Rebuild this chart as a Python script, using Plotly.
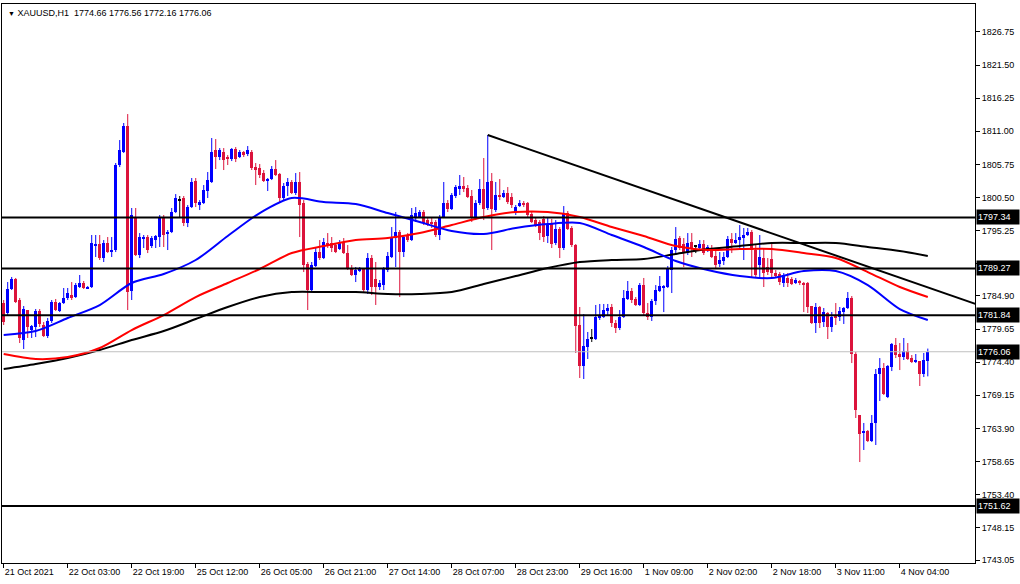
import plotly.graph_objects as go

# ---------------- data ----------------
x_tick_pos = [0, 16, 32, 48, 64, 80, 96, 112, 128, 144, 160, 176, 192, 208, 224]
x_tick_text = ["21 Oct 2021", "22 Oct 03:00", "22 Oct 19:00", "25 Oct 12:00", "26 Oct 05:00",
               "26 Oct 21:00", "27 Oct 14:00", "28 Oct 07:00", "28 Oct 23:00", "29 Oct 16:00",
               "1 Nov 09:00", "2 Nov 02:00", "2 Nov 18:00", "3 Nov 11:00", "4 Nov 04:00"]
y_ticks = [1826.75, 1821.50, 1816.25, 1811.00, 1805.75, 1800.50, 1795.25, 1790.00, 1784.90,
           1779.65, 1774.40, 1769.15, 1763.90, 1758.65, 1753.40, 1748.15, 1743.05]

opens = [
    1783.78, 1782.19, 1786.00, 1787.59, 1784.26, 1777.92, 1782.67, 1779.50,
    1779.98, 1782.51, 1780.30, 1778.55, 1780.93, 1783.94, 1782.51, 1783.78,
    1784.58, 1785.05, 1784.73, 1786.32, 1786.95, 1786.16, 1786.32, 1792.97,
    1793.13, 1790.91, 1793.29, 1791.86, 1792.18, 1805.65, 1807.71, 1811.83,
    1785.68, 1797.41, 1791.39, 1794.08, 1794.24, 1792.81, 1793.76, 1794.24,
    1797.25, 1794.72, 1795.03, 1798.20, 1800.10, 1800.42, 1796.46, 1798.99,
    1803.12, 1799.31, 1799.63, 1801.53, 1802.96, 1808.03, 1806.92, 1807.71,
    1806.92, 1806.60, 1808.19, 1806.92, 1807.71, 1807.39, 1807.71, 1805.33,
    1805.17, 1804.38, 1803.12, 1803.43, 1805.02, 1804.23, 1800.42, 1802.32,
    1802.96, 1801.21, 1802.96, 1799.63, 1789.96, 1785.84, 1789.64, 1791.86,
    1790.91, 1793.29, 1793.29, 1792.97, 1792.34, 1793.45, 1791.70, 1789.33,
    1788.22, 1788.85, 1789.33, 1785.84, 1790.91, 1787.59, 1786.32, 1786.63,
    1789.01, 1791.07, 1794.08, 1795.03, 1791.86, 1794.40, 1793.76, 1797.41,
    1797.41, 1798.20, 1796.93, 1796.62, 1796.62, 1794.56, 1797.41, 1799.63,
    1798.68, 1800.74, 1801.84, 1802.32, 1802.00, 1800.74, 1797.41, 1799.63,
    1801.84, 1798.84, 1803.12, 1798.52, 1800.90, 1800.58, 1801.21, 1800.58,
    1798.04, 1799.15, 1799.63, 1799.63, 1797.89, 1796.93, 1796.62, 1797.09,
    1794.40, 1796.46, 1793.29, 1795.51, 1792.50, 1798.04, 1795.67, 1792.97,
    1780.30, 1773.80, 1776.81, 1778.08, 1778.08, 1781.41, 1781.56, 1782.51,
    1783.15, 1780.62, 1779.82, 1781.56, 1784.42, 1785.68, 1784.42, 1783.47,
    1786.63, 1782.20, 1781.56, 1784.10, 1785.68, 1786.24, 1786.32, 1789.01,
    1792.18, 1794.08, 1793.13, 1791.70, 1793.45, 1792.66, 1792.50, 1793.13,
    1792.18, 1792.34, 1791.23, 1789.96, 1790.44, 1791.07, 1793.92, 1793.45,
    1793.76, 1794.08, 1794.56, 1795.03, 1792.18, 1789.80, 1790.91, 1789.49,
    1790.75, 1788.53, 1788.38, 1786.95, 1787.75, 1787.59, 1786.95, 1787.27,
    1786.95, 1786.95, 1783.31, 1780.62, 1783.15, 1780.77, 1782.20, 1779.98,
    1781.60, 1781.56, 1782.35, 1782.99, 1784.58, 1775.70, 1766.03, 1763.18,
    1763.50, 1761.91, 1764.77, 1772.53, 1773.48, 1768.88, 1773.64, 1777.12,
    1775.70, 1775.22, 1776.17, 1775.06, 1774.43, 1774.59, 1772.53, 1774.66,
]
highs = [
    1784.26, 1787.11, 1787.91, 1787.75, 1784.58, 1783.31, 1782.67, 1780.30,
    1782.83, 1782.83, 1780.77, 1781.41, 1784.26, 1784.42, 1783.94, 1786.16,
    1786.16, 1787.11, 1786.95, 1788.22, 1787.27, 1786.47, 1794.56, 1794.56,
    1794.56, 1793.76, 1794.24, 1794.24, 1805.97, 1809.61, 1812.31, 1813.73,
    1798.84, 1798.84, 1794.87, 1794.56, 1794.56, 1794.40, 1794.56, 1797.73,
    1797.73, 1795.35, 1798.84, 1801.05, 1800.74, 1800.74, 1799.31, 1803.59,
    1803.59, 1800.10, 1802.48, 1804.54, 1809.93, 1809.77, 1808.34, 1808.34,
    1807.23, 1808.34, 1808.50, 1808.03, 1807.87, 1808.66, 1808.03, 1805.97,
    1805.81, 1804.86, 1803.59, 1805.49, 1806.44, 1804.38, 1802.80, 1803.59,
    1803.27, 1804.38, 1804.54, 1800.10, 1790.28, 1790.28, 1792.50, 1793.76,
    1794.08, 1794.87, 1794.24, 1793.29, 1793.76, 1794.08, 1792.97, 1789.80,
    1789.49, 1789.49, 1789.33, 1791.70, 1791.39, 1790.28, 1787.43, 1789.49,
    1791.86, 1795.82, 1798.20, 1795.35, 1794.56, 1794.87, 1798.84, 1798.99,
    1798.52, 1798.52, 1797.25, 1797.25, 1796.93, 1797.73, 1802.96, 1800.10,
    1801.21, 1802.48, 1804.07, 1803.75, 1802.48, 1801.69, 1800.10, 1803.43,
    1806.76, 1810.41, 1804.38, 1802.96, 1803.43, 1801.69, 1802.16, 1801.21,
    1799.31, 1800.10, 1799.94, 1799.79, 1798.20, 1797.41, 1796.93, 1797.57,
    1797.25, 1797.09, 1796.93, 1795.82, 1799.15, 1798.36, 1795.98, 1793.13,
    1783.15, 1782.04, 1779.19, 1779.66, 1783.47, 1783.63, 1783.63, 1783.63,
    1783.63, 1781.09, 1782.67, 1785.84, 1787.27, 1786.16, 1784.73, 1786.95,
    1787.75, 1783.78, 1784.42, 1786.63, 1788.06, 1786.63, 1789.64, 1792.66,
    1795.82, 1794.40, 1794.08, 1794.87, 1794.87, 1792.97, 1793.76, 1793.76,
    1792.97, 1792.97, 1792.18, 1791.86, 1791.86, 1794.40, 1794.87, 1794.87,
    1796.14, 1795.67, 1795.67, 1795.35, 1792.97, 1794.56, 1792.50, 1790.91,
    1793.29, 1789.01, 1788.69, 1788.53, 1788.53, 1787.91, 1787.75, 1787.43,
    1787.11, 1787.11, 1783.31, 1783.78, 1783.31, 1782.99, 1782.35, 1782.35,
    1783.78, 1783.15, 1783.15, 1785.52, 1784.89, 1776.01, 1766.03, 1764.77,
    1763.66, 1766.03, 1773.32, 1775.06, 1774.27, 1773.95, 1777.44, 1778.24,
    1777.44, 1778.24, 1777.44, 1775.54, 1775.70, 1774.59, 1775.86, 1776.56,
]
lows = [
    1780.30, 1781.88, 1785.84, 1783.78, 1777.44, 1776.49, 1778.24, 1778.24,
    1778.39, 1779.98, 1778.39, 1778.24, 1780.62, 1782.51, 1782.35, 1783.63,
    1784.26, 1784.26, 1784.58, 1786.16, 1786.00, 1786.00, 1786.16, 1791.07,
    1790.60, 1790.28, 1791.70, 1791.07, 1791.86, 1805.33, 1807.55, 1782.67,
    1784.26, 1791.23, 1790.91, 1792.50, 1791.70, 1792.50, 1792.50, 1792.66,
    1792.66, 1792.18, 1794.87, 1798.04, 1797.25, 1795.98, 1795.82, 1798.84,
    1798.99, 1798.52, 1799.47, 1800.42, 1802.80, 1805.02, 1806.44, 1804.86,
    1805.65, 1806.28, 1806.12, 1806.76, 1806.92, 1807.07, 1804.86, 1802.48,
    1803.59, 1802.96, 1801.53, 1803.27, 1803.91, 1799.79, 1800.10, 1800.74,
    1801.05, 1800.90, 1794.24, 1788.69, 1782.67, 1785.52, 1789.49, 1790.60,
    1790.75, 1792.50, 1791.86, 1791.70, 1792.18, 1791.55, 1789.01, 1788.06,
    1787.11, 1788.69, 1785.37, 1785.21, 1785.05, 1783.47, 1785.84, 1785.84,
    1788.69, 1790.91, 1789.49, 1784.73, 1791.07, 1793.45, 1793.61, 1796.62,
    1797.25, 1796.14, 1795.98, 1795.67, 1794.24, 1793.76, 1797.25, 1798.20,
    1798.52, 1800.42, 1800.90, 1801.37, 1800.42, 1796.62, 1796.93, 1799.31,
    1796.93, 1798.52, 1792.18, 1798.20, 1800.10, 1800.42, 1799.47, 1798.84,
    1797.73, 1798.99, 1798.99, 1797.41, 1796.46, 1795.82, 1793.76, 1793.45,
    1793.29, 1792.50, 1792.97, 1790.91, 1792.18, 1795.35, 1792.66, 1775.86,
    1771.90, 1771.74, 1774.91, 1777.60, 1777.92, 1781.09, 1781.41, 1781.88,
    1779.98, 1779.03, 1779.50, 1781.41, 1784.26, 1783.78, 1783.31, 1783.31,
    1781.88, 1781.09, 1780.93, 1783.47, 1785.52, 1782.35, 1786.16, 1785.37,
    1791.39, 1792.18, 1789.49, 1791.39, 1791.07, 1791.70, 1792.18, 1791.39,
    1791.86, 1790.91, 1789.33, 1789.49, 1789.80, 1790.91, 1791.70, 1793.13,
    1792.18, 1790.60, 1794.40, 1787.91, 1787.91, 1787.91, 1786.32, 1788.22,
    1787.75, 1787.75, 1786.63, 1786.32, 1786.32, 1786.63, 1786.79, 1786.63,
    1782.35, 1782.20, 1780.46, 1779.03, 1779.82, 1779.98, 1778.08, 1779.19,
    1780.30, 1780.93, 1780.46, 1782.83, 1774.27, 1765.56, 1758.58, 1760.49,
    1761.75, 1761.75, 1761.28, 1768.25, 1769.20, 1768.72, 1773.00, 1775.06,
    1773.16, 1774.75, 1774.75, 1774.27, 1774.27, 1770.63, 1772.05, 1772.16,
]
closes = [
    1780.77, 1786.00, 1787.59, 1783.94, 1778.24, 1782.83, 1779.98, 1780.14,
    1782.51, 1780.46, 1778.55, 1780.93, 1783.94, 1782.67, 1783.78, 1784.58,
    1785.37, 1784.58, 1786.63, 1786.95, 1786.16, 1786.32, 1793.29, 1793.13,
    1790.91, 1793.29, 1791.86, 1792.18, 1805.65, 1808.03, 1811.83, 1785.52,
    1797.73, 1791.39, 1794.24, 1794.24, 1792.18, 1794.08, 1794.40, 1797.25,
    1794.56, 1795.03, 1798.20, 1800.42, 1800.10, 1796.46, 1798.99, 1802.96,
    1799.63, 1799.79, 1801.69, 1803.27, 1807.71, 1806.92, 1808.03, 1806.44,
    1806.60, 1808.19, 1806.60, 1807.71, 1807.23, 1808.03, 1805.17, 1804.86,
    1804.07, 1803.12, 1803.43, 1805.02, 1804.07, 1800.42, 1802.32, 1802.96,
    1801.21, 1802.96, 1799.31, 1789.80, 1785.84, 1789.80, 1791.86, 1790.91,
    1793.45, 1792.81, 1792.50, 1791.86, 1793.45, 1791.70, 1789.33, 1788.22,
    1789.01, 1789.17, 1785.84, 1790.91, 1786.32, 1786.32, 1786.95, 1789.33,
    1791.23, 1794.08, 1795.03, 1791.86, 1794.24, 1793.76, 1797.73, 1798.04,
    1798.20, 1796.46, 1796.14, 1796.30, 1794.56, 1797.41, 1799.63, 1798.68,
    1800.90, 1802.16, 1802.32, 1801.84, 1800.58, 1797.25, 1799.63, 1801.84,
    1798.68, 1802.96, 1798.68, 1800.90, 1800.58, 1801.21, 1799.79, 1799.31,
    1798.99, 1799.63, 1799.31, 1797.73, 1796.62, 1795.98, 1794.87, 1794.24,
    1796.14, 1793.13, 1795.51, 1792.50, 1798.04, 1795.51, 1792.97, 1780.14,
    1773.80, 1776.97, 1778.08, 1778.08, 1781.56, 1781.88, 1782.67, 1782.99,
    1780.62, 1779.82, 1781.56, 1784.58, 1785.68, 1784.26, 1783.47, 1786.63,
    1782.20, 1781.56, 1784.10, 1785.84, 1786.47, 1786.32, 1789.33, 1792.18,
    1793.92, 1792.50, 1791.70, 1793.29, 1792.50, 1792.66, 1793.13, 1791.70,
    1792.66, 1791.07, 1789.80, 1790.60, 1791.07, 1793.92, 1793.29, 1793.76,
    1794.24, 1794.56, 1795.03, 1792.18, 1788.22, 1791.07, 1788.53, 1788.69,
    1788.53, 1788.06, 1787.11, 1788.22, 1786.95, 1786.79, 1787.43, 1786.95,
    1786.63, 1783.15, 1780.62, 1783.15, 1780.62, 1782.35, 1779.98, 1781.56,
    1781.50, 1782.51, 1782.99, 1784.58, 1775.70, 1766.83, 1763.02, 1763.50,
    1761.91, 1764.77, 1772.53, 1773.48, 1769.36, 1773.80, 1777.28, 1775.54,
    1775.22, 1776.17, 1774.91, 1774.43, 1774.75, 1772.53, 1774.75, 1776.06,
]

# moving averages sampled every 8 bars (plus the last bar)
ma_x = [0, 8, 16, 24, 32, 40, 48, 56, 64, 72, 80, 88, 96, 104, 112, 120, 128, 136,
        144, 152, 160, 168, 176, 184, 192, 200, 208, 216, 224, 231]
ma_blue = [1778.71, 1779.34, 1781.40, 1783.46, 1786.95, 1788.38, 1790.60, 1794.40, 1798.04,
           1800.42, 1799.79, 1799.47, 1798.04, 1796.62, 1795.19, 1794.72, 1795.67, 1796.30,
           1796.46, 1794.56, 1792.66, 1790.44, 1789.01, 1788.06, 1787.74, 1788.85, 1788.85,
           1786.63, 1782.83, 1781.09]
ma_red = [1775.70, 1774.91, 1775.22, 1776.65, 1779.50, 1781.88, 1784.73, 1786.95, 1789.17,
          1791.70, 1792.81, 1793.76, 1794.08, 1794.87, 1796.14, 1797.41, 1798.20, 1798.20,
          1797.41, 1795.82, 1794.40, 1792.81, 1792.18, 1792.34, 1792.34, 1791.70, 1790.91,
          1788.69, 1786.32, 1784.73]
ma_black = [1773.32, 1774.11, 1775.06, 1776.33, 1777.92, 1779.34, 1781.24, 1783.15, 1784.73,
            1785.52, 1785.52, 1785.52, 1785.21, 1785.21, 1785.52, 1786.79, 1788.06, 1789.33,
            1790.28, 1790.60, 1790.75, 1791.55, 1792.34, 1792.81, 1793.29, 1793.29, 1793.29,
            1792.66, 1792.02, 1791.23]

levels = [1797.34, 1789.27, 1781.84, 1751.62]
bid_price = 1776.06
trend_x = [121, 243]
trend_y = [1810.41, 1783.63]
title_text = "XAUUSD,H1\u00a0\u00a01774.66 1776.56 1772.16 1776.06"

# ---------------- figure ----------------
UP, DOWN, DOJI = "#0000FF", "#DC143C", "#000000"
FONT = "Liberation Sans, Arial, sans-serif"
FS = 9

idx = list(range(len(opens)))
colors = []
for o, c in zip(opens, closes):
    colors.append(UP if c > o else (DOWN if c < o else DOJI))

fig = go.Figure()

# wicks
for col in (UP, DOWN, DOJI):
    wx, wy = [], []
    for i in idx:
        if colors[i] == col:
            wx += [i, i, None]
            wy += [lows[i], highs[i], None]
    fig.add_trace(go.Scatter(x=wx, y=wy, mode="lines", line=dict(color=col, width=1),
                             hoverinfo="skip", showlegend=False))

# bodies
fig.add_trace(go.Bar(
    x=idx,
    base=[min(o, c) for o, c in zip(opens, closes)],
    y=[max(abs(c - o), 0.16) for o, c in zip(opens, closes)],
    width=0.75,
    marker=dict(color=colors, line=dict(width=0)),
    showlegend=False,
))

# moving averages
for vals, col in ((ma_black, "#000000"), (ma_red, "#FF0000"), (ma_blue, "#0000FF")):
    fig.add_trace(go.Scatter(x=ma_x, y=vals, mode="lines",
                             line=dict(color=col, width=2, shape="spline", smoothing=0.8),
                             hoverinfo="skip", showlegend=False))

# trend line
fig.add_trace(go.Scatter(x=trend_x, y=trend_y, mode="lines",
                         line=dict(color="#000000", width=2),
                         hoverinfo="skip", showlegend=False, cliponaxis=True))

# horizontal levels
for lv in levels:
    fig.add_shape(type="line", xref="paper", x0=0, x1=1, yref="y", y0=lv, y1=lv,
                  line=dict(color="#000000", width=2))
fig.add_shape(type="line", xref="paper", x0=0, x1=1, yref="y", y0=bid_price, y1=bid_price,
              line=dict(color="#C0C0C0", width=1))

# price labels at right
for lv in levels + [bid_price]:
    fig.add_annotation(xref="paper", x=1, yref="y", y=lv, text=f"{lv:.2f}",
                       xanchor="left", yanchor="middle", xshift=1, showarrow=False,
                       bgcolor="#000000", borderpad=1, width=40, height=12, align="left",
                       font=dict(color="#FFFFFF", size=FS, family=FONT))

# title
fig.add_annotation(xref="paper", yref="paper", x=0, y=1, xanchor="left", yanchor="top",
                   xshift=4, yshift=-2, showarrow=False,
                   text="<span style='font-size:7px'>\u25bc</span> " + title_text,
                   font=dict(color="#000000", size=FS, family=FONT))

fig.update_layout(
    width=1020, height=584,
    margin=dict(l=2, r=45, t=4, b=21, autoexpand=False),
    paper_bgcolor="#FFFFFF", plot_bgcolor="#FFFFFF",
    showlegend=False,
    font=dict(family=FONT, size=FS, color="#000000"),
    xaxis=dict(range=[-0.425, 242.8], tickmode="array", tickvals=x_tick_pos,
               ticktext=x_tick_text, ticks="outside", ticklen=4, tickcolor="#000000",
               ticklabelposition="outside right", automargin=False,
               showline=True, linecolor="#000000", linewidth=1, mirror=True,
               showgrid=False, zeroline=False, fixedrange=True,
               tickfont=dict(size=FS, family=FONT, color="#000000")),
    yaxis=dict(range=[1742.58, 1831.17], side="right", tickmode="array",
               tickvals=y_ticks, ticktext=[f"{v:.2f}" for v in y_ticks],
               ticks="outside", ticklen=4, tickcolor="#000000", automargin=False,
               showline=True, linecolor="#000000", linewidth=1, mirror=True,
               showgrid=False, zeroline=False, fixedrange=True,
               tickfont=dict(size=FS, family=FONT, color="#000000")),
    bargap=0,
)

fig.write_html(
    "out.html",
    config={"displayModeBar": False},
    post_script="document.body.style.margin='0';document.body.style.overflow='hidden';",
)
